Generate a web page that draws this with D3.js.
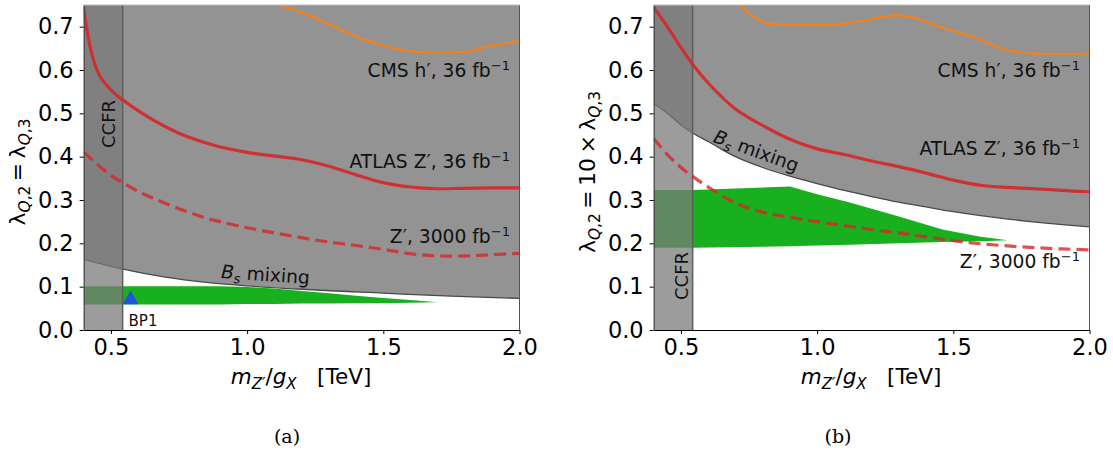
<!DOCTYPE html>
<html><head><meta charset="utf-8">
<script src="https://cdn.jsdelivr.net/npm/d3@7"></script>
<style>body{margin:0;background:#fff}svg{display:block}</style>
</head><body>
<svg id="chart" width="1113" height="450"></svg>
<script>
// ---------------- data ----------------
const xTicks = [0.5, 1.0, 1.5, 2.0];
const yTicks = [0.0, 0.1, 0.2, 0.3, 0.4, 0.5, 0.6, 0.7];
const ccfrEdge = 0.543;

// panel (a)
const bsMassA   = [0.4, 0.54, 0.7, 0.85, 1.0, 1.2, 1.5, 1.75, 2.0];
const bsA       = [0.163, 0.141, 0.122, 0.110, 0.102, 0.094, 0.085, 0.078, 0.073];
const atlasMassA = [0.4, 0.41, 0.423, 0.44, 0.46, 0.51, 0.543, 0.63, 0.75, 0.875, 1.0, 1.12, 1.2, 1.3, 1.4, 1.5, 1.6, 1.7, 1.8, 1.9, 2.0];
const atlasA     = [0.745, 0.70, 0.655, 0.615, 0.585, 0.548, 0.531, 0.494, 0.454, 0.427, 0.41, 0.40, 0.393, 0.378, 0.358, 0.34, 0.33, 0.326, 0.327, 0.328, 0.328];
const hlMassA = [0.4, 0.45, 0.5, 0.543, 0.6, 0.67, 0.75, 0.83, 0.9, 1.0, 1.1, 1.2, 1.3, 1.4, 1.5, 1.6, 1.7, 1.8, 1.9, 2.0];
const hlA     = [0.411, 0.382, 0.357, 0.34, 0.32, 0.30, 0.28, 0.262, 0.25, 0.236, 0.224, 0.213, 0.203, 0.195, 0.186, 0.176, 0.171, 0.171, 0.174, 0.177];
const cmsMassA = [1.12, 1.18, 1.24, 1.32, 1.41, 1.48, 1.55, 1.62, 1.7, 1.81, 1.88, 1.94, 2.0];
const cmsA     = [0.75, 0.737, 0.723, 0.70, 0.674, 0.66, 0.648, 0.642, 0.641, 0.642, 0.654, 0.66, 0.668];
const greenMassA = [0.4, 0.9, 1.0, 1.1, 1.2, 1.3, 1.4, 1.5, 1.6, 1.7];
const greenTopA  = [0.101, 0.101, 0.099, 0.096, 0.09, 0.085, 0.079, 0.074, 0.069, 0.064];
const greenBotA  = [0.059, 0.059, 0.06, 0.06, 0.061, 0.061, 0.062, 0.062, 0.063, 0.064];
const bp1 = [0.572, 0.07];

// panel (b)
const bsMassB = [0.4, 0.45, 0.5, 0.544, 0.6, 0.7, 0.8, 0.9, 1.0, 1.1, 1.2, 1.3, 1.4, 1.5, 1.6, 1.7, 1.8, 1.9, 2.0];
const bsB     = [0.522, 0.50, 0.473, 0.454, 0.435, 0.40, 0.375, 0.355, 0.338, 0.322, 0.308, 0.295, 0.284, 0.273, 0.264, 0.256, 0.249, 0.243, 0.238];
const atlasMassB = [0.4, 0.45, 0.5, 0.544, 0.6, 0.7, 0.8, 0.9, 1.0, 1.1, 1.2, 1.3, 1.4, 1.5, 1.6, 1.7, 1.8, 1.9, 2.0];
const atlasB     = [0.745, 0.70, 0.652, 0.612, 0.57, 0.51, 0.472, 0.44, 0.418, 0.405, 0.39, 0.377, 0.362, 0.346, 0.334, 0.329, 0.326, 0.322, 0.319];
const hlMassB = [0.4, 0.45, 0.5, 0.544, 0.6, 0.7, 0.8, 0.9, 1.0, 1.1, 1.2, 1.3, 1.4, 1.5, 1.6, 1.7, 1.8, 1.9, 2.0];
const hlB     = [0.442, 0.405, 0.375, 0.354, 0.33, 0.293, 0.272, 0.26, 0.25, 0.241, 0.232, 0.224, 0.215, 0.206, 0.199, 0.194, 0.19, 0.187, 0.185];
const cmsMassB = [0.717, 0.76, 0.81, 0.9, 1.0, 1.07, 1.15, 1.22, 1.29, 1.36, 1.45, 1.57, 1.69, 1.76, 1.82, 1.9, 1.99, 2.0];
const cmsB     = [0.75, 0.725, 0.708, 0.704, 0.704, 0.704, 0.712, 0.72, 0.727, 0.72, 0.70, 0.677, 0.646, 0.64, 0.637, 0.637, 0.637, 0.646];
const greenMassB = [0.4, 0.544, 0.9, 1.0, 1.12, 1.3, 1.46, 1.6, 1.7];
const greenTopB  = [0.323, 0.323, 0.331, 0.313, 0.294, 0.262, 0.232, 0.215, 0.207];
const greenBotB  = [0.19, 0.19, 0.193, 0.195, 0.197, 0.2, 0.203, 0.205, 0.207];

// ---------------- drawing ----------------
const svg = d3.select('#chart');
const FONT = 'DejaVu Sans';
const RED = '#d62728', ORANGE = '#ff7f0e', GREEN = '#18b01e', GRAY = '#939393';

function rich(text, parts, fs) {
  let shift = 0;
  parts.forEach(p => {
    const ts = text.append('tspan').text(p.t);
    const target = p.sub ? fs * 0.22 : p.sup ? -fs * 0.38 : 0;
    const dy = target - shift;
    if (dy) ts.attr('dy', dy);
    shift = target;
    ts.attr('font-size', (p.sub || p.sup) ? fs * 0.7 : fs);
    if (p.it) ts.attr('font-style', 'italic');
  });
}

function panel(cfg) {
  const g = svg.append('g').attr('transform', `translate(${cfg.dx},0)`);
  const x = d3.scaleLinear().domain([0.4, 2.0]).range([83.7, 519.5]);
  const y = d3.scaleLinear().domain([0, 0.75]).range([330, 5]);
  const clipId = 'clip' + cfg.dx;
  g.append('clipPath').attr('id', clipId).append('rect')
    .attr('x', x(0.4)).attr('y', y(0.75)).attr('width', x(2.0) - x(0.4)).attr('height', y(0) - y(0.75));
  const pg = g.append('g').attr('clip-path', `url(#${clipId})`);
  const z = (a, b) => a.map((v, i) => [v, b[i]]);
  const curve = d3.curveMonotoneX;
  const smooth = d3.curveCatmullRom.alpha(0.5);

  // Bs mixing excluded region
  pg.append('path').datum(z(cfg.bsMass, cfg.bs))
    .attr('d', d3.area().x(d => x(d[0])).y0(y(0.76)).y1(d => y(d[1])).curve(curve))
    .attr('fill', GRAY);
  pg.append('path').datum(z(cfg.bsMass, cfg.bs))
    .attr('d', d3.line().x(d => x(d[0])).y(d => y(d[1])).curve(curve))
    .attr('fill', 'none').attr('stroke', '#4a4a4a').attr('stroke-width', 1.3);

  // green band
  pg.append('path').datum(cfg.greenMass.map((v, i) => [v, cfg.greenTop[i], cfg.greenBot[i]]))
    .attr('d', d3.area().x(d => x(d[0])).y0(d => y(d[2])).y1(d => y(d[1])).curve(d3.curveLinear))
    .attr('fill', GREEN);

  // CCFR band
  pg.append('rect').attr('x', x(0.4)).attr('y', y(0.75)).attr('width', x(ccfrEdge) - x(0.4)).attr('height', y(0) - y(0.75))
    .attr('fill', 'rgb(121,121,121)').attr('fill-opacity', 0.74);
  pg.append('line').attr('x1', x(ccfrEdge)).attr('x2', x(ccfrEdge)).attr('y1', y(0.75)).attr('y2', y(0))
    .attr('stroke', '#5e5e5e').attr('stroke-width', 1.5);

  // lines
  const ln = d3.line().x(d => x(d[0])).y(d => y(d[1])).curve(smooth);
  pg.append('path').datum(z(cfg.cmsMass, cfg.cms)).attr('d', d3.line().x(d => x(d[0])).y(d => y(d[1])).curve(d3.curveLinear))
    .attr('fill', 'none').attr('stroke', ORANGE).attr('stroke-opacity', 0.8).attr('stroke-width', 2.6);
  pg.append('path').datum(z(cfg.atlasMass, cfg.atlas)).attr('d', ln)
    .attr('fill', 'none').attr('stroke', RED).attr('stroke-opacity', 0.9).attr('stroke-width', 3.2);
  pg.append('path').datum(z(cfg.hlMass, cfg.hl)).attr('d', ln)
    .attr('fill', 'none').attr('stroke', RED).attr('stroke-opacity', 0.8).attr('stroke-width', 3.2)
    .attr('stroke-dasharray', '12,6');

  if (cfg.bp1) {
    const sym = d3.symbol().type(d3.symbolTriangle).size(110);
    g.append('path').attr('d', sym()).attr('transform', `translate(${x(cfg.bp1[0])},${y(cfg.bp1[1])})`)
      .attr('fill', '#1f55dd');
    g.append('text').attr('x', x(cfg.bp1[0]) - 2).attr('y', 326).attr('font-family', FONT).attr('font-size', 15)
      .attr('fill', '#111').text('BP1');
  }

  // spines
  g.append('line').attr('x1', x(2.0)).attr('x2', x(2.0)).attr('y1', y(0.75)).attr('y2', y(0)).attr('stroke', '#555').attr('stroke-width', 1);
  g.append('line').attr('x1', x(0.4)).attr('x2', x(2.0)).attr('y1', y(0.75)).attr('y2', y(0.75)).attr('stroke', '#bbb').attr('stroke-width', 1);

  // axes
  const ax = g.append('g').attr('transform', `translate(0,${y(0)})`)
    .call(d3.axisBottom(x).tickValues(xTicks).tickFormat(d3.format('.1f')).tickSize(4).tickPadding(5).tickSizeOuter(0));
  const ay = g.append('g').attr('transform', `translate(${x(0.4)},0)`)
    .call(d3.axisLeft(y).tickValues(yTicks).tickFormat(d3.format('.1f')).tickSize(4).tickPadding(6).tickSizeOuter(0));
  [ax, ay].forEach(a => {
    a.selectAll('text').attr('font-family', FONT).attr('font-size', 22.5).attr('fill', '#000');
    a.select('.domain').attr('stroke', '#000').attr('stroke-width', 1.2);
    a.selectAll('.tick line').attr('stroke', '#000').attr('stroke-width', 1);
  });
  ay.select('.domain').attr('stroke', '#444');

  // annotations
  const lab = (xx, yy, parts, fs, anchor, rot) => {
    const t = g.append('text').attr('font-family', FONT).attr('fill', '#111').attr('text-anchor', anchor || 'end');
    if (rot) t.attr('transform', `translate(${xx},${yy}) rotate(${rot})`);
    else t.attr('x', xx).attr('y', yy);
    rich(t, parts, fs);
    return t;
  };
  const FS = 18.7;
  lab(510, 77, [{t: 'CMS h′, 36 fb'}, {t: '−1', sup: true}], FS);
  lab(510, cfg.atlasLabY, [{t: 'ATLAS Z′, 36 fb'}, {t: '−1', sup: true}], FS);
  lab(510, cfg.hlLabY, [{t: 'Z′, 3000 fb'}, {t: '−1', sup: true}], FS);
  lab(cfg.bsLab[0], cfg.bsLab[1], [{t: 'B', it: true}, {t: 's', sub: true, it: true}, {t: ' mixing'}], FS, 'middle', cfg.bsLab[2]);
  lab(cfg.ccfrLab[0], cfg.ccfrLab[1], [{t: 'CCFR'}], 18, 'middle', -90);

  // axis labels
  const xl = g.append('text').attr('x', 301).attr('y', 384).attr('font-family', FONT).attr('text-anchor', 'middle')
    .attr('fill', '#000').style('white-space', 'pre');
  rich(xl, [{t: 'm', it: true}, {t: 'Z′', sub: true, it: true}, {t: '/'}, {t: 'g', it: true}, {t: 'X', sub: true, it: true}, {t: '   [TeV]'}], 21.5);
  const yl = g.append('text').attr('transform', `translate(${cfg.ylabX},${cfg.ylabY}) rotate(-90)`).attr('font-family', FONT)
    .attr('text-anchor', 'middle').attr('fill', '#000');
  rich(yl, cfg.ylabParts, 22);

  svg.append('text').attr('x', cfg.capX).attr('y', 443).attr('text-anchor', 'middle')
    .attr('font-family', 'DejaVu Serif').attr('font-size', 19).attr('fill', '#000').text(cfg.cap);
}

panel({
  dx: 0, bsMass: bsMassA, bs: bsA, atlasMass: atlasMassA, atlas: atlasA, hlMass: hlMassA, hl: hlA,
  cmsMass: cmsMassA, cms: cmsA, greenMass: greenMassA, greenTop: greenTopA, greenBot: greenBotA, bp1: bp1,
  atlasLabY: 168, hlLabY: 243, bsLab: [265, 281, 4], ccfrLab: [115, 124],
  ylabX: 25, ylabY: 172,
  ylabParts: [{t: 'λ'}, {t: 'Q', sub: true, it: true}, {t: ',2', sub: true}, {t: '\u2009=\u2009λ'}, {t: 'Q', sub: true, it: true}, {t: ',3', sub: true}],
  cap: '(a)', capX: 287
});
panel({
  dx: 570, bsMass: bsMassB, bs: bsB, atlasMass: atlasMassB, atlas: atlasB, hlMass: hlMassB, hl: hlB,
  cmsMass: cmsMassB, cms: cmsB, greenMass: greenMassB, greenTop: greenTopB, greenBot: greenBotB, bp1: null,
  atlasLabY: 155, hlLabY: 268, bsLab: [184, 157, 20], ccfrLab: [118, 276],
  ylabX: 25, ylabY: 172,
  ylabParts: [{t: 'λ'}, {t: 'Q', sub: true, it: true}, {t: ',2', sub: true}, {t: '\u2009=\u200910\u2009×\u2009λ'}, {t: 'Q', sub: true, it: true}, {t: ',3', sub: true}],
  cap: '(b)', capX: 838
});
</script>
</body></html>
